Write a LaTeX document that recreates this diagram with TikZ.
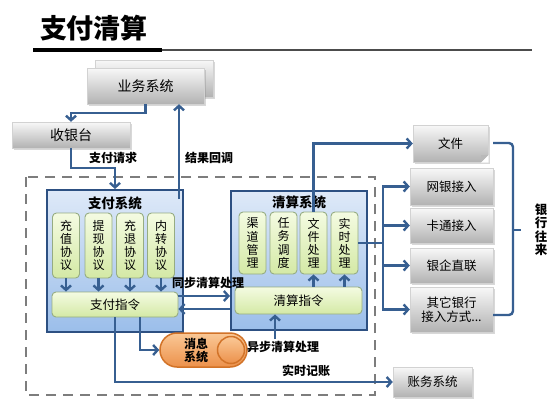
\documentclass[tikz,border=0pt]{standalone}
\usepackage{fontspec}
\setmainfont{Noto Sans CJK SC}
\usetikzlibrary{arrows.meta,shadows,calc}
\definecolor{lineblue}{RGB}{55,95,145}
\definecolor{sysborder}{RGB}{45,80,130}
\definecolor{systop}{RGB}{222,233,248}
\definecolor{sysbot}{RGB}{155,190,234}
\definecolor{grtop}{RGB}{244,251,226}
\definecolor{grbot}{RGB}{212,233,165}
\definecolor{grborder}{RGB}{150,172,130}
\definecolor{graytop}{RGB}{248,248,248}
\definecolor{graybot}{RGB}{178,178,178}
\definecolor{dashgray}{RGB}{125,125,125}
\definecolor{ortop}{RGB}{250,200,150}
\definecolor{orbot}{RGB}{236,145,75}
\definecolor{orborder}{RGB}{210,115,40}
\tikzset{
  graybox/.style={shading=axis, top color=graytop, bottom color=graybot, draw=gray!35, line width=0.4pt,
    drop shadow={opacity=0.3,shadow xshift=2pt,shadow yshift=-2pt}, inner sep=0pt,
    font=\fontsize{12.5}{14}\selectfont, align=center},
  sysbox/.style={shading=axis, top color=systop, bottom color=sysbot, draw=sysborder, line width=2pt, inner sep=0pt},
  greenbox/.style={shading=axis, top color=grtop, bottom color=grbot, draw=grborder, line width=0.9pt,
    rounded corners=4pt, inner sep=0pt, align=center, font=\fontsize{12}{13.2}\selectfont},
  conn/.style={draw=lineblue, line width=2.4pt, -{Straight Barb[length=4.5pt,width=10pt]}},
  plainline/.style={draw=lineblue, line width=2.4pt},
  lbl/.style={font=\bfseries\fontsize{12}{14}\selectfont, inner sep=0pt},
  systitle/.style={font=\bfseries\fontsize{13.5}{15}\selectfont, inner sep=0pt}
}
\begin{document}
\begin{tikzpicture}[x=1pt,y=-1pt]
\useasboundingbox[fill=white] (0,0) rectangle (550,405);
% title
\node[font=\bfseries\fontsize{27}{30}\selectfont, inner sep=0pt] (title) at (94,28) {支付清算};
\coordinate (ul1) at (33,50); \coordinate (ul2) at (162,50); \coordinate (ul3) at (532,50);
\draw[line width=4pt] (ul1) -- (ul2);
\draw[line width=1.5pt, black!70] (ul2) -- (ul3);
% dashed region
\draw[dashgray, line width=2.5pt, dash pattern=on 10pt off 7pt] (26,177) rectangle (375,395);
% business system (stacked)
\node[graybox, minimum width=118, minimum height=37] (bizback) at (154,78.5) {};
\node[graybox, minimum width=117, minimum height=36, font=\fontsize{14}{16}\selectfont] (biz) at (145.5,86) {业务系统};
\node[graybox, minimum width=118, minimum height=26, font=\fontsize{14}{16}\selectfont] (cash) at (71,135) {收银台};
% payment system
\node[sysbox, minimum width=136, minimum height=142] (zf) at (115,261) {};
\node[systitle] (zft) at (115,203) {支付系统};
\node[greenbox, minimum width=27, minimum height=65] (p1) at (66,245.5) {充\\值\\协\\议};
\node[greenbox, minimum width=27, minimum height=65] (p2) at (98.5,245.5) {提\\现\\协\\议};
\node[greenbox, minimum width=27, minimum height=65] (p3) at (130,245.5) {充\\退\\协\\议};
\node[greenbox, minimum width=27, minimum height=65] (p4) at (161,245.5) {内\\转\\协\\议};
\node[greenbox, minimum width=126, minimum height=25, font=\fontsize{12.5}{14}\selectfont] (zfzl) at (115,304.5) {支付指令};
% clearing system
\node[sysbox, minimum width=136, minimum height=139] (qs) at (299,260.5) {};
\node[systitle] (qst) at (299,202) {清算系统};
\node[greenbox, minimum width=27, minimum height=62] (q1) at (252.5,243) {渠\\道\\管\\理};
\node[greenbox, minimum width=27, minimum height=62] (q2) at (283.5,243) {任\\务\\调\\度};
\node[greenbox, minimum width=27, minimum height=62] (q3) at (313.5,243) {文\\件\\处\\理};
\node[greenbox, minimum width=27, minimum height=62] (q4) at (344.5,243) {实\\时\\处\\理};
\node[greenbox, minimum width=127, minimum height=27, font=\fontsize{12.5}{14}\selectfont] (qszl) at (298.5,300.5) {清算指令};
% message system
\node[shading=axis, top color=ortop, bottom color=orbot, draw=orborder, line width=1.5pt,
  rounded corners=17pt, minimum width=87, minimum height=34, inner sep=0pt] (msg) at (203.5,350) {};
\draw[orborder, line width=1.5pt, shading=axis, top color=ortop, bottom color=orbot] (231,350) circle (13.5pt);
\node[font=\bfseries\fontsize{12}{13}\selectfont, align=center, inner sep=0pt] (msgt) at (196,350) {消息\\系统};
% right boxes
\node[graybox, minimum width=75, minimum height=37] (file) at (450.5,143.5) {文件};
\fill[white] (481,162.5) -- (488.5,162.5) -- (488.5,155) -- cycle;
\fill[gray!55] (481,162) -- (488,155) -- (481,155) -- cycle;
\node[graybox, minimum width=83, minimum height=37] (wy) at (451.5,186.5) {网银接入};
\node[graybox, minimum width=83, minimum height=35] (kt) at (451.5,225.5) {卡通接入};
\node[graybox, minimum width=83, minimum height=35] (yq) at (451.5,265.5) {银企直联};
\node[graybox, minimum width=83, minimum height=45] (qt) at (451.5,309.5) {其它银行\\接入方式...};
\node[graybox, minimum width=79, minimum height=30] (acct) at (432.5,382) {账务系统};
% connectors
\draw[conn] (biz.south) -- ++(0,9) -| (cash.north);
\draw[conn] (cash.south) -- (cash.south |- 0,168) -| (zf.north);
\node[lbl] (l1) at (113,158) {支付请求};
\coordinate (cbstart) at (179,199);
\draw[conn] (cbstart) -- (cbstart |- biz.south);
\node[lbl] (l2) at (209,158) {结果回调};
\foreach \p in {p1,p2,p3,p4} \draw[conn] (\p.south) -- (\p.south |- zfzl.north);
\draw[conn] (qszl.north -| q3.south) -- (q3.south);
\draw[conn] (qszl.north -| q4.south) -- (q4.south);
\draw[conn] (zfzl.east |- 0,296) -- (qs.west |- 0,296);
\draw[conn] (qs.west |- 0,309) -- (zfzl.east |- 0,309);
\node[lbl] (l3) at (208,283) {同步清算处理};
\draw[conn] (q3.north) |- (file.west);
\coordinate (bus) at (383,243);
\draw[plainline] (q4.east) -- (bus);
\draw[conn] (bus) |- (wy.west);
\draw[conn] (bus) |- (kt.west);
\draw[conn] (bus) |- (yq.west);
\draw[conn] (bus) |- (qt.west);
\draw[conn] (zfzl.south -| 140,0) |- (msg.west);
\draw[conn] (zfzl.south) |- (acct.west);
\node[lbl] (l4) at (306,371) {实时记账};
\coordinate (asyncstart) at (275,339);
\draw[conn] (asyncstart) -- (asyncstart |- qszl.south);
\node[lbl] (l5) at (283,347) {异步清算处理};
% bank bracket
\coordinate (br1) at (493,143); \coordinate (br2) at (513,230); \coordinate (br3) at (493,315); \coordinate (br4) at (521,230);
\draw[plainline, rounded corners=4pt] (br1) -| (br2) |- (br3);
\draw[plainline] (br2) -- (br4);
\node[font=\bfseries\fontsize{12.5}{13.5}\selectfont, align=center, inner sep=0pt] (bank) at (541,230) {银\\行\\往\\来};
\end{tikzpicture}
\end{document}
